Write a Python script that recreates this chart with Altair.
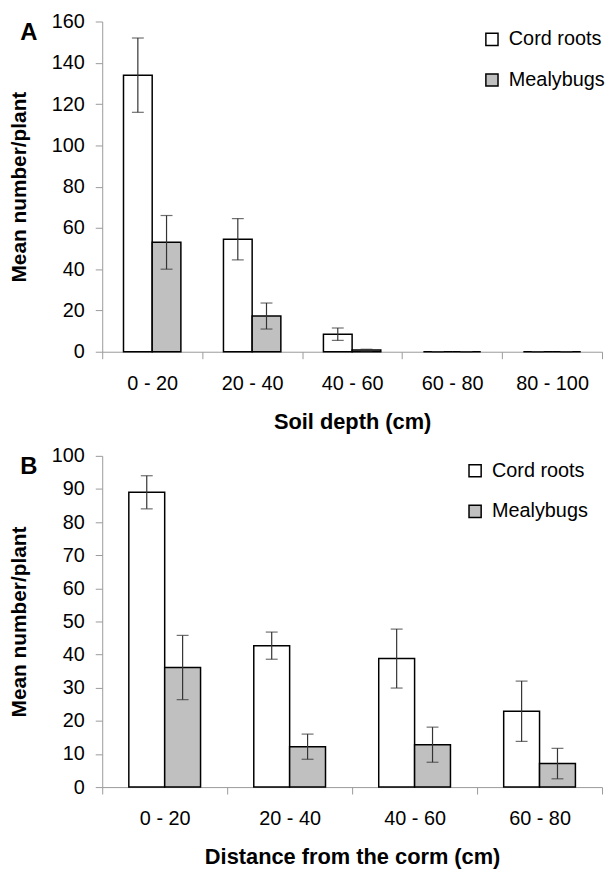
import altair as alt
import pandas as pd

series = ["Cord roots", "Mealybugs"]

depth_cats = ["0 - 20", "20 - 40", "40 - 60", "60 - 80", "80 - 100"]
depth_cord = [134, 54.5, 8.5, 0, 0]
depth_cord_err = [18, 10, 3, 0, 0]
depth_mealy = [53, 17.3, 0.8, 0, 0]
depth_mealy_err = [13, 6.3, 0.4, 0, 0]

dist_cats = ["0 - 20", "20 - 40", "40 - 60", "60 - 80"]
dist_cord = [89, 42.7, 38.8, 22.9]
dist_cord_err = [5, 4.1, 8.9, 9.1]
dist_mealy = [36.1, 12.2, 12.8, 7.1]
dist_mealy_err = [9.7, 3.8, 5.3, 4.6]

FONT = "Liberation Sans"
GREY = "#9a9a9a"
W = 504


def frame(cats, cord, cord_err, mealy, mealy_err):
    rows = []
    for c, v, e in zip(cats, cord, cord_err):
        rows.append({"cat": c, "series": series[0], "mean": v, "lo": v - e, "hi": v + e})
    for c, v, e in zip(cats, mealy, mealy_err):
        rows.append({"cat": c, "series": series[1], "mean": v, "lo": max(v - e, 0), "hi": v + e})
    return pd.DataFrame(rows)


def panel(df, cats, letter, ymax, ystep, xtitle, height, legend_x, legend_y):
    x = alt.X("cat:N", sort=cats, title=xtitle,
              scale=alt.Scale(paddingInner=0, paddingOuter=0),
              axis=alt.Axis(labelAngle=0, tickBand="extent", domainColor=GREY,
                            tickColor=GREY, tickSize=7, labelFontSize=20,
                            labelFont=FONT, labelColor="black", labelPadding=15,
                            titleFont=FONT, titleFontSize=22, titleFontWeight="bold",
                            titlePadding=18, titleColor="black"))
    xo = alt.XOffset("series:N", sort=series,
                     scale=alt.Scale(paddingInner=0, paddingOuter=0.742))
    y_axis = alt.Axis(values=list(range(0, ymax + 1, ystep)), grid=False,
                      domainColor=GREY, tickColor=GREY, tickSize=7,
                      labelOverlap=False,
                      labelFontSize=20, labelFont=FONT, labelColor="black",
                      labelPadding=11, titleFont=FONT, titleFontSize=21,
                      titleFontWeight="bold", titlePadding=22, titleColor="black")
    ysc = alt.Scale(domain=[0, ymax], nice=False)

    def Y(field):
        return alt.Y(field, title="Mean number/plant", scale=ysc, axis=y_axis)

    base = alt.Chart(df)
    bars = base.mark_bar(stroke="black", strokeWidth=1.5).encode(
        x=x, xOffset=xo,
        y=Y("mean:Q"),
        fill=alt.Fill("series:N", sort=series,
                      scale=alt.Scale(domain=series, range=["white", "#c0c0c0"]),
                      legend=alt.Legend(title=None, orient="none",
                                        legendX=legend_x, legendY=legend_y,
                                        symbolType="square", symbolSize=150,
                                        symbolStrokeColor="black",
                                        symbolStrokeWidth=1.5,
                                        labelFontSize=20, labelFont=FONT,
                                        labelColor="black", labelOffset=7,
                                        rowPadding=21)),
    )
    rules = base.mark_rule(color="#333333", strokeWidth=1.2).encode(
        x=x, xOffset=xo, y=Y("lo:Q"), y2="hi:Q")
    cap_hi = base.mark_tick(color="#333333", thickness=1.2, size=12).encode(
        x=x, xOffset=xo, y=Y("hi:Q"))
    cap_lo = base.mark_tick(color="#333333", thickness=1.2, size=12).encode(
        x=x, xOffset=xo, y=Y("lo:Q"))
    lab = alt.Chart(pd.DataFrame({"t": [letter]})).mark_text(
        font=FONT, fontSize=24, fontWeight="bold", baseline="middle",
        align="center", color="black").encode(
        text="t:N", x=alt.value(-74), y=alt.value(11.5))
    return alt.layer(bars, rules, cap_hi, cap_lo, lab).properties(
        width=W, height=height)


dfA = frame(depth_cats, depth_cord, depth_cord_err, depth_mealy, depth_mealy_err)
dfB = frame(dist_cats, dist_cord, dist_cord_err, dist_mealy, dist_mealy_err)

pA = panel(dfA, depth_cats, "A", 160, 20, "Soil depth (cm)", 333, 383, 8)
pB = panel(dfB, dist_cats, "B", 100, 10, "Distance from the corm (cm)", 334, 366, 5)

chart = alt.vconcat(pA, pB, spacing=14).resolve_scale(
    fill="independent", x="independent", y="independent", xOffset="independent"
).resolve_legend(fill="independent").configure_view(stroke=None).properties(
    padding=0, background="white")

chart.save("out.html", embed_options={"renderer": "svg", "actions": False})
